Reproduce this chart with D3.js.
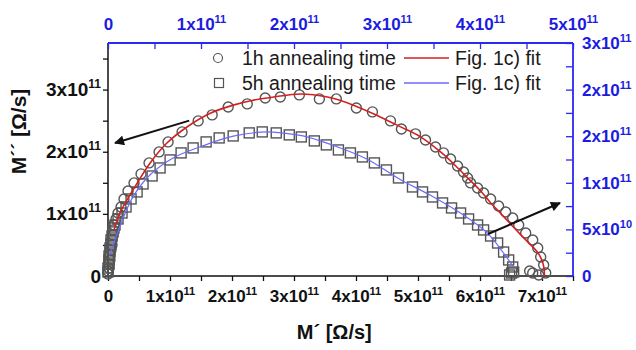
<!DOCTYPE html>
<html>
<head>
<meta charset="utf-8">
<script src="https://cdn.jsdelivr.net/npm/d3@7"></script>
<style>
  body { margin: 0; background: #fff; }
  svg { display: block; }
  text { font-family: "Liberation Sans", Arial, Helvetica, sans-serif; }
</style>
</head>
<body>
<svg id="chart" width="636" height="350"></svg>
<script>
// Electric modulus plane, values in units of 1e11 Ω/s

// 1h annealing time (open circles)
const h1X = [0, 0, 0.016, 0.016, 0.032, 0.032, 0.048, 0.065, 0.065, 0.081, 0.081, 0.097, 0.129, 0.162, 0.21, 0.258, 0.323, 0.42, 0.533, 0.662, 0.824, 0.969, 1.195, 1.454, 1.68, 1.939, 2.246, 2.536, 2.779, 3.086, 3.409, 3.683, 4.006, 4.265, 4.556, 4.733, 4.96, 5.121, 5.283, 5.412, 5.525, 5.638, 5.735, 5.8, 5.848, 5.961, 6.058, 6.171, 6.3, 6.414, 6.527, 6.624, 6.737, 6.85, 6.931, 6.979, 7.027, 7.06, 6.947, 6.85, 6.801];
const h1Y = [0.032, 0.081, 0.129, 0.193, 0.258, 0.338, 0.419, 0.499, 0.58, 0.66, 0.741, 0.821, 0.918, 1.014, 1.111, 1.24, 1.369, 1.498, 1.643, 1.82, 1.997, 2.158, 2.319, 2.496, 2.593, 2.721, 2.77, 2.866, 2.882, 2.915, 2.85, 2.85, 2.705, 2.641, 2.496, 2.367, 2.287, 2.19, 2.077, 1.981, 1.884, 1.771, 1.675, 1.578, 1.498, 1.417, 1.337, 1.24, 1.127, 1.031, 0.934, 0.821, 0.692, 0.58, 0.451, 0.306, 0.177, 0.048, 0.016, 0.048, 0.081];

// 5h annealing time (open squares)
const h5X = [0, 0, 0.016, 0.016, 0.016, 0.032, 0.032, 0.048, 0.048, 0.065, 0.081, 0.097, 0.113, 0.162, 0.226, 0.291, 0.372, 0.469, 0.565, 0.711, 0.84, 1.002, 1.179, 1.373, 1.583, 1.793, 2.019, 2.278, 2.488, 2.714, 2.924, 3.118, 3.328, 3.522, 3.716, 3.91, 4.103, 4.297, 4.491, 4.685, 4.911, 5.073, 5.234, 5.396, 5.541, 5.687, 5.816, 5.961, 6.058, 6.171, 6.284, 6.381, 6.462, 6.527, 6.543, 6.51, 6.478];
const h5Y = [0.064, 0.129, 0.193, 0.258, 0.322, 0.386, 0.451, 0.515, 0.58, 0.644, 0.709, 0.773, 0.821, 0.918, 1.014, 1.111, 1.24, 1.353, 1.481, 1.61, 1.739, 1.868, 1.981, 2.061, 2.158, 2.222, 2.254, 2.303, 2.319, 2.303, 2.271, 2.238, 2.174, 2.11, 2.029, 1.981, 1.916, 1.82, 1.707, 1.578, 1.433, 1.353, 1.272, 1.176, 1.095, 1.014, 0.918, 0.821, 0.741, 0.644, 0.531, 0.386, 0.258, 0.145, 0.064, 0.048, 0.016];

// Fig. 1c) fit curves
const fit1X = [0.1, 0.19, 0.4, 0.68, 0.95, 1.32, 1.65, 2.02, 2.34, 2.67, 3.1, 3.54, 3.96, 4.39, 4.72, 5.04, 5.36, 5.61, 5.82, 6.0, 6.17, 6.35, 6.5, 6.65, 6.77, 6.93, 7.0, 7.03, 7.04];
const fit1Y = [0.75, 1.01, 1.38, 1.82, 2.14, 2.43, 2.62, 2.75, 2.83, 2.88, 2.93, 2.88, 2.75, 2.56, 2.4, 2.24, 2.0, 1.77, 1.56, 1.38, 1.18, 0.99, 0.83, 0.67, 0.55, 0.38, 0.25, 0.14, 0.0];
const fit5X = [0.03, 0.19, 0.4, 0.68, 1.05, 1.49, 2.02, 2.57, 3.05, 3.21, 3.75, 4.18, 4.72, 5.2, 5.69, 6.12, 6.38, 6.54];
const fit5Y = [0.34, 0.79, 1.27, 1.63, 1.9, 2.08, 2.25, 2.32, 2.27, 2.24, 2.06, 1.88, 1.55, 1.3, 1.01, 0.69, 0.37, 0.145];

// Axis ticks and labels
const bottomTicks = d3.range(0, 7.51, 0.5);
const bottomLabelValues = [0, 1, 2, 3, 4, 5, 6, 7];
const bottomLabels = ["0", "1x10^11", "2x10^11", "3x10^11", "4x10^11", "5x10^11", "6x10^11", "7x10^11"];
const leftTicks = d3.range(0, 3.51, 0.5);
const leftLabelValues = [0, 1, 2, 3];
const leftLabels = ["0", "1x10^11", "2x10^11", "3x10^11"];
const topTicks = d3.range(0, 5.01, 0.5);
const topLabelValues = [0, 1, 2, 3, 4, 5];
const topLabels = ["0", "1x10^11", "2x10^11", "3x10^11", "4x10^11", "5x10^11"];
const rightTicks = d3.range(0, 2.51, 0.25);
const rightLabelValues = [0, 0.5, 1, 1.5, 2, 2.5];
const rightLabels = ["0", "5x10^10", "1x10^11", "2x10^11", "2x10^11", "3x10^11"];

// Guide arrows (data units): from, to
const arrowFromX = [1.31, 6.13];
const arrowFromY = [2.50, 0.676];
const arrowToX = [0.113, 7.29];
const arrowToY = [2.14, 1.175];

const seriesNames = ["1h annealing time", "5h annealing time"];
const fitName = "Fig. 1c) fit";

const svg = d3.select("#chart");
const L = 108, R = 573, T = 43, B = 276;
const blue = "#2a2af0", blueText = "#1c1ce0", red = "#d42020", fitBlue = "#6a6aff", grey = "#555";

const x = d3.scaleLinear().domain([0, 7.5]).range([L, R]);
const y = d3.scaleLinear().domain([0, 3.75]).range([B, T]);
const xTop = d3.scaleLinear().domain([0, 5]).range([L, R]);
const yRight = d3.scaleLinear().domain([0, 2.5]).range([B, T]);

function labeler(values, labels) {
  return d => {
    const i = values.findIndex(v => Math.abs(v - d) < 1e-9);
    return i >= 0 ? labels[i] : "";
  };
}
function superscript(g, supSize, supDy) {
  g.selectAll(".tick text").each(function () {
    const t = d3.select(this);
    const s = t.text();
    if (!s) return;
    const parts = s.split("^");
    t.text(parts[0]);
    if (parts[1]) t.append("tspan").attr("dy", supDy).attr("font-size", supSize).text(parts[1]);
  });
}

// Bottom axis
const gB = svg.append("g").attr("transform", `translate(0,${B})`)
  .call(d3.axisBottom(x).tickValues(bottomTicks).tickSize(5).tickPadding(9)
    .tickFormat(labeler(bottomLabelValues, bottomLabels)));
gB.selectAll("text").attr("font-size", 17).attr("font-weight", "bold").attr("fill", "#111");
superscript(gB, 11, -7);

// Left axis
const gL = svg.append("g").attr("transform", `translate(${L},0)`)
  .call(d3.axisLeft(y).tickValues(leftTicks).tickSize(5).tickPadding(2)
    .tickFormat(labeler(leftLabelValues, leftLabels)));
gL.selectAll("text").attr("font-size", 19).attr("font-weight", "bold").attr("fill", "#111");
superscript(gL, 12, -8);

// Top axis (blue)
const gT = svg.append("g").attr("transform", `translate(0,${T})`)
  .call(d3.axisTop(xTop).tickValues(topTicks).tickSize(-6).tickPadding(13)
    .tickFormat(labeler(topLabelValues, topLabels)));
gT.selectAll("text").attr("font-size", 17).attr("font-weight", "bold").attr("fill", blueText);
superscript(gT, 11, -7);

// Right axis (blue)
const gR = svg.append("g").attr("transform", `translate(${R},0)`)
  .call(d3.axisRight(yRight).tickValues(rightTicks).tickSize(-7).tickPadding(9)
    .tickFormat(labeler(rightLabelValues, rightLabels)));
gR.selectAll("text").attr("font-size", 17).attr("font-weight", "bold").attr("fill", blueText);
superscript(gR, 11, -7);

[gB, gL].forEach(g => { g.select(".domain").attr("stroke", "#111").attr("stroke-width", 1.5); g.selectAll(".tick line").attr("stroke", "#111").attr("stroke-width", 1.3); });
[gT, gR].forEach(g => { g.select(".domain").attr("stroke", blue).attr("stroke-width", 1.8); g.selectAll(".tick line").attr("stroke", blue).attr("stroke-width", 1.3); });
gB.select(".domain").attr("d", `M${L},0H${R}`);
gL.select(".domain").attr("d", `M0,${B}V${T}`);
gT.select(".domain").attr("d", `M${L},0H${R}`);
gR.select(".domain").attr("d", `M0,${B}V${T}`);

// Axis titles
svg.append("text").attr("x", x(3.65)).attr("y", 339).attr("text-anchor", "middle")
  .attr("font-size", 20).attr("font-weight", "bold").attr("fill", "#111").text("M´ [Ω/s]");
svg.append("text").attr("transform", `translate(26,${(T + B) / 2 - 28}) rotate(-90)`).attr("text-anchor", "middle")
  .attr("font-size", 21).attr("font-weight", "bold").attr("fill", "#111").text("M´´ [Ω/s]");

// Data markers
const plot = svg.append("g");
const pts1 = h1X.map((v, i) => [v, h1Y[i]]);
const pts5 = h5X.map((v, i) => [v, h5Y[i]]);
const sq = 10;
plot.selectAll("rect.s5").data(pts5).join("rect").attr("class", "s5")
  .attr("x", d => x(d[0]) - sq / 2).attr("y", d => y(d[1]) - sq / 2)
  .attr("width", sq).attr("height", sq)
  .attr("fill", "none").attr("stroke", grey).attr("stroke-width", 1.4);
plot.selectAll("circle.s1").data(pts1).join("circle").attr("class", "s1")
  .attr("cx", d => x(d[0])).attr("cy", d => y(d[1])).attr("r", 5)
  .attr("fill", "none").attr("stroke", grey).attr("stroke-width", 1.4);

// Fit curves
const line = d3.line().x(d => x(d[0])).y(d => y(d[1])).curve(d3.curveCatmullRom.alpha(0.5));
plot.append("path").datum(fit1X.map((v, i) => [v, fit1Y[i]]))
  .attr("d", line).attr("fill", "none").attr("stroke", red).attr("stroke-width", 1.6);
plot.append("path").datum(fit5X.map((v, i) => [v, fit5Y[i]]))
  .attr("d", line).attr("fill", "none").attr("stroke", fitBlue).attr("stroke-width", 1.2);

// Arrows
svg.append("defs").append("marker").attr("id", "head")
  .attr("viewBox", "0 0 10 10").attr("refX", 9).attr("refY", 5)
  .attr("markerWidth", 6).attr("markerHeight", 5).attr("orient", "auto")
  .attr("markerUnits", "strokeWidth")
  .append("path").attr("d", "M0,0L10,5L0,10Z").attr("fill", "#111");
svg.selectAll("line.arrow").data(arrowFromX.map((v, i) => i)).join("line").attr("class", "arrow")
  .attr("x1", i => x(arrowFromX[i])).attr("y1", i => y(arrowFromY[i]))
  .attr("x2", i => x(arrowToX[i])).attr("y2", i => y(arrowToY[i]))
  .attr("stroke", "#111").attr("stroke-width", 2).attr("marker-end", "url(#head)");

// Legend
const leg = svg.append("g");
const rows = [58, 83];
rows.forEach((ry, i) => {
  if (i === 0) leg.append("circle").attr("cx", 218).attr("cy", ry).attr("r", 4.5)
    .attr("fill", "none").attr("stroke", grey).attr("stroke-width", 1.2);
  else leg.append("rect").attr("x", 214.5).attr("y", ry - 4.5).attr("width", 9).attr("height", 9)
    .attr("fill", "none").attr("stroke", grey).attr("stroke-width", 1.2);
  leg.append("text").attr("x", 242).attr("y", ry + 7).attr("font-size", 19.5).attr("fill", "#1a1a1a").text(seriesNames[i]);
  leg.append("line").attr("x1", 404).attr("x2", 449).attr("y1", ry).attr("y2", ry)
    .attr("stroke", i === 0 ? red : fitBlue).attr("stroke-width", i === 0 ? 1.6 : 1.3);
  leg.append("text").attr("x", 455).attr("y", ry + 7).attr("font-size", 19.5).attr("fill", "#1a1a1a").text(fitName);
});
</script>
</body>
</html>
